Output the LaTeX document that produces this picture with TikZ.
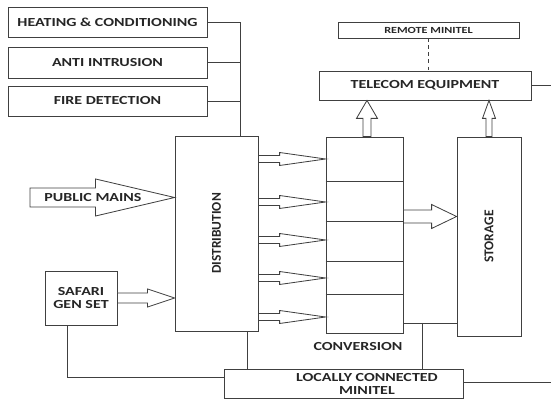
\documentclass[tikz,border=0pt]{standalone}
\usepackage{fontspec}
\setmainfont[FakeStretch=1.3]{Carlito}
\newfontfamily\upfont{Carlito}
\usetikzlibrary{positioning,calc}
\tikzset{
  box/.style={draw=black!75, line width=0.7pt, fill=white, inner sep=1pt,
    font=\fontsize{10.5}{11}\selectfont\bfseries, text=black!85, align=center},
  lbl/.style={font=\fontsize{10.5}{11}\selectfont\bfseries, text=black!85, align=center},
  wire/.style={draw=black!75, line width=0.7pt},
  fat/.style={draw=black!75, line width=0.7pt, fill=white}
}
\newcommand{\fatright}[5]{\draw[fat] ($#1+(0,#4)$) -- ($#2+(-#3,#4)$) -- ($#2+(-#3,#5)$) -- #2
  -- ($#2+(-#3,-#5)$) -- ($#2+(-#3,-#4)$) -- ($#1+(0,-#4)$) -- cycle;}
\newcommand{\fatup}[5]{\draw[fat] ($#1+(-#4,0)$) -- ($#2+(-#4,#3)$) -- ($#2+(-#5,#3)$) -- #2
  -- ($#2+(#5,#3)$) -- ($#2+(#4,#3)$) -- ($#1+(#4,0)$) -- cycle;}
\begin{document}
\begin{tikzpicture}[x=0.03cm, y=-0.03cm]
         \useasboundingbox (0,0) rectangle (551,402);
         \node[box, minimum width=5.97cm, minimum height=0.9cm] (heat) at (107.5,22.5) {HEATING \& CONDITIONING};
         \node[box, minimum width=5.97cm, minimum height=0.93cm] (anti) at (107.5,62.5) {ANTI INTRUSION};
         \node[box, minimum width=5.97cm, minimum height=0.9cm] (fire) at (107.5,101) {FIRE DETECTION};
         \node[box, minimum width=2.49cm, minimum height=5.85cm, font=\fontsize{11.5}{12}\selectfont\bfseries] (dist) at (216.5,233.5) {\upfont\rotatebox{90}{DISTRIBUTION}};
         \node[box, minimum width=2.31cm, minimum height=5.88cm] (conv) at (364.5,235) {};
         \node[lbl] (convlbl) at (358,347) {CONVERSION};
         \node[box, minimum width=1.92cm, minimum height=5.97cm, font=\fontsize{11.5}{12}\selectfont\bfseries] (stor) at (489,236.5) {\upfont\rotatebox{90}{STORAGE}};
         \node[box, minimum width=6.36cm, minimum height=0.87cm] (tel) at (425,85.5) {TELECOM EQUIPMENT};
         \node[box, minimum width=5.43cm, minimum height=0.48cm, font=\fontsize{8}{9}\selectfont\bfseries] (remote) at (428.5,30) {REMOTE MINITEL};
         \node[box, minimum width=2.16cm, minimum height=1.62cm] (safari) at (81,298) {SAFARI\\GEN SET};
         \node[box, minimum width=7.17cm, minimum height=0.87cm] (loc) at (343.5,383.5) {};
         \node[lbl] (loctext) at (367,384) {LOCALLY CONNECTED\\MINITEL};
         \coordinate (bus) at (240,22.5);
         \coordinate (mainsin) at (30,197.5);
         \coordinate (tap) at (422,323);
         \coordinate (telout) at (551,85.5);
         \coordinate (locout) at (551,382);
         \draw[wire] (heat.east) -| (dist.north -| bus);
         \draw[wire] (anti.east) -- (anti.east -| bus);
         \draw[wire] (fire.east) -- (fire.east -| bus);
         \draw[wire, dashed] (remote.south) -- (tel.north -| remote.south);
         \draw[wire] (tel.east) -- (telout);
         \foreach \y in {181,221,261,294}
            \draw[wire] (conv.west |- 0,\y) -- (conv.east |- 0,\y);
         \draw[wire] (safari.south -| 67,0) |- (loc.west |- 0,377);
         \draw[wire] (dist.south -| 247,0) -- (loc.north -| 247,0);
         \draw[wire] (conv.east |- tap) -- (stor.west |- tap);
         \draw[wire] (tap) -- (loc.north -| tap);
         \draw[wire] (loc.east |- locout) -- (locout);
         \fatright{(mainsin)}{(dist.west |- mainsin)}{79}{9.5}{18.5}
         \node[lbl] (mains) at (93,197.5) {PUBLIC MAINS};
         \fatright{(safari.east)}{(dist.west |- safari.east)}{27}{5}{9}
         \foreach \y in {159,202,240,278,317}
            {\fatright{(dist.east |- 0,\y)}{(conv.west |- 0,\y)}{46}{3.5}{6.5}}
         \fatright{(conv.east |- 0,216.5)}{(stor.west |- 0,216.5)}{25}{6.5}{12}
         \fatup{(conv.north -| 367,0)}{(tel.south -| 367,0)}{18}{4}{10.5}
         \fatup{(stor.north)}{(tel.south -| stor.north)}{18}{3}{6.5}
     \end{tikzpicture}
\end{document}
